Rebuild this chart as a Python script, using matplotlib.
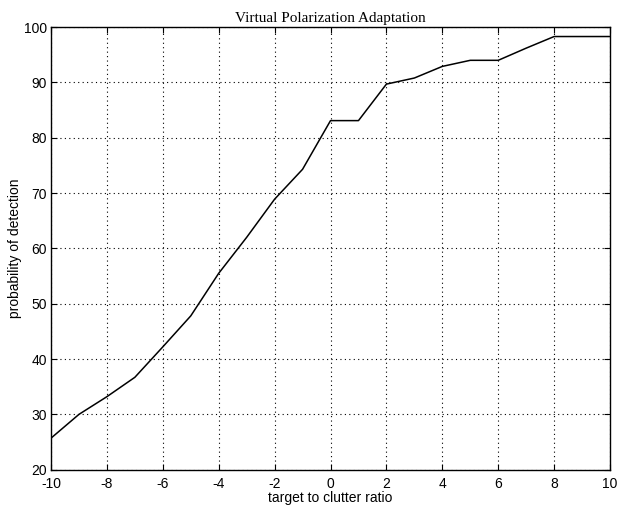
import matplotlib
matplotlib.use("Agg")
import matplotlib.pyplot as plt

# target-to-clutter ratio (dB) and detection probability (%)
tcr = [-10, -9, -8, -7, -6, -5, -4, -3, -2, -1, 0, 1, 2, 3, 4, 5, 6, 7, 8, 9, 10]
pd = [25.7, 30.0, 33.2, 36.7, 42.2, 47.8, 55.5, 62.0, 68.9, 74.3, 83.1, 83.1,
      89.7, 90.8, 92.9, 94.0, 94.0, 96.2, 98.3, 98.3, 98.3]

xticks = list(range(-10, 11, 2))
yticks = list(range(20, 101, 10))

sans = ["Liberation Sans", "DejaVu Sans"]
serif = ["Liberation Serif", "DejaVu Serif"]

fig = plt.figure(figsize=(6.19, 5.07), dpi=100)
ax = fig.add_axes([0.0824, 0.0736, 0.9031, 0.8729])

ax.plot(tcr, pd, color="black", linewidth=1.1)

ax.set_xlim(-10, 10)
ax.set_ylim(20, 100)
ax.set_xticks(xticks)
ax.set_yticks(yticks)
ax.set_xticklabels([str(t) for t in xticks], fontsize=10, family=sans)
ax.set_yticklabels([str(t) for t in yticks], fontsize=10, family=sans)
ax.tick_params(direction="in", top=True, right=True, length=4, width=0.8,
               colors="black")
ax.tick_params(axis="x", pad=5)
ax.tick_params(axis="y", pad=3)
ax.grid(True, linestyle=(0, (1, 3)), color="black", linewidth=0.8)
for s in ax.spines.values():
    s.set_linewidth(1.0)

ax.set_title("Virtual Polarization Adaptation", fontsize=11, family=serif, pad=4)
ax.set_xlabel("target to clutter ratio", fontsize=10, family=sans, labelpad=0)
ax.set_ylabel("probability of detection", fontsize=10, family=sans, labelpad=1)

fig.savefig("out.png", dpi=100)
